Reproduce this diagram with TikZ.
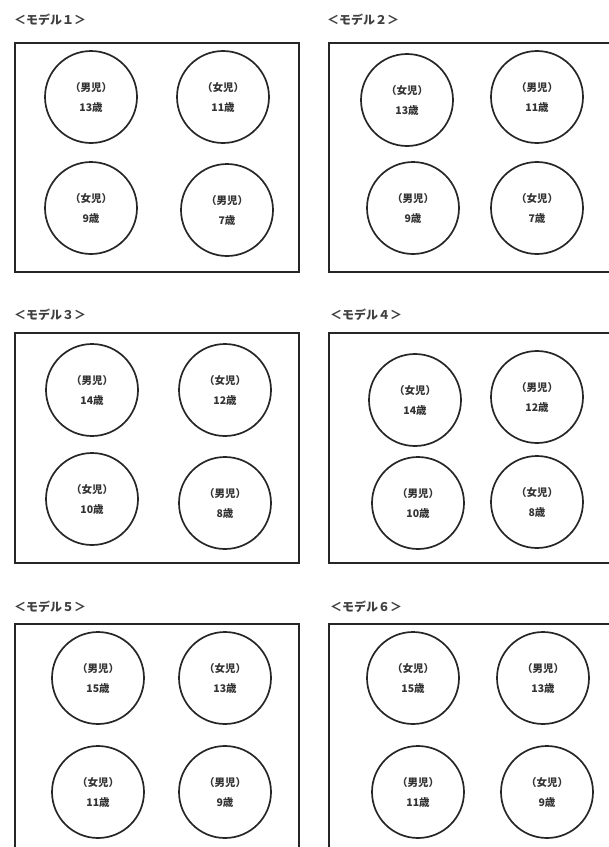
\documentclass[tikz,border=0pt]{standalone}
\usepackage{fontspec}
\newfontfamily\cjk{Noto Sans CJK JP}
\begin{document}
\begin{tikzpicture}[x=1pt,y=-1pt,
  panelbox/.style={draw=black!85,line width=2.2pt},
  kid/.style={circle,draw=black!85,line width=1.7pt,minimum size=92pt,inner sep=0pt,align=center,
    font=\cjk\bfseries\fontsize{10.5}{20}\selectfont,text=black!80},
  title/.style={anchor=west,font=\cjk\bfseries\fontsize{12}{13}\selectfont,text=black!75,inner sep=0pt}]
\useasboundingbox (0,0) rectangle (609,847);
\begin{scope}
\clip (0,0) rectangle (609,847);
% panel 1
\node[title] (t1) at (14,20) {＜モデル１＞};
\node[panelbox,minimum width=284pt,minimum height=229pt,anchor=north west] (b1) at (14,42) {};
\node[kid] (k11) at (91,97) {（男児）\\13歳};
\node[kid] (k12) at (223,97) {（女児）\\11歳};
\node[kid] (k13) at (91,208) {（女児）\\9歳};
\node[kid] (k14) at (227,210) {（男児）\\7歳};
% panel 2
\node[title] (t2) at (327,20) {＜モデル２＞};
\node[panelbox,minimum width=292pt,minimum height=229pt,anchor=north west] (b2) at (328,42) {};
\node[kid] (k21) at (407,100) {（女児）\\13歳};
\node[kid] (k22) at (537,97) {（男児）\\11歳};
\node[kid] (k23) at (413,208) {（男児）\\9歳};
\node[kid] (k24) at (537,208) {（女児）\\7歳};
% panel 3
\node[title] (t3) at (14,315) {＜モデル３＞};
\node[panelbox,minimum width=284pt,minimum height=230pt,anchor=north west] (b3) at (14,332) {};
\node[kid] (k31) at (92,390) {（男児）\\14歳};
\node[kid] (k32) at (225,390) {（女児）\\12歳};
\node[kid] (k33) at (92,499) {（女児）\\10歳};
\node[kid] (k34) at (225,503) {（男児）\\8歳};
% panel 4
\node[title] (t4) at (330,315) {＜モデル４＞};
\node[panelbox,minimum width=292pt,minimum height=230pt,anchor=north west] (b4) at (328,332) {};
\node[kid] (k41) at (415,400) {（女児）\\14歳};
\node[kid] (k42) at (537,397) {（男児）\\12歳};
\node[kid] (k43) at (418,503) {（男児）\\10歳};
\node[kid] (k44) at (537,502) {（女児）\\8歳};
% panel 5
\node[title] (t5) at (14,607) {＜モデル５＞};
\node[panelbox,minimum width=284pt,minimum height=240pt,anchor=north west] (b5) at (14,623) {};
\node[kid] (k51) at (98,678) {（男児）\\15歳};
\node[kid] (k52) at (225,678) {（女児）\\13歳};
\node[kid] (k53) at (98,792) {（女児）\\11歳};
\node[kid] (k54) at (225,792) {（男児）\\9歳};
% panel 6
\node[title] (t6) at (330,607) {＜モデル６＞};
\node[panelbox,minimum width=292pt,minimum height=240pt,anchor=north west] (b6) at (328,623) {};
\node[kid] (k61) at (413,678) {（女児）\\15歳};
\node[kid] (k62) at (543,678) {（男児）\\13歳};
\node[kid] (k63) at (418,792) {（男児）\\11歳};
\node[kid] (k64) at (547,792) {（女児）\\9歳};
\end{scope}
\end{tikzpicture}
\end{document}
